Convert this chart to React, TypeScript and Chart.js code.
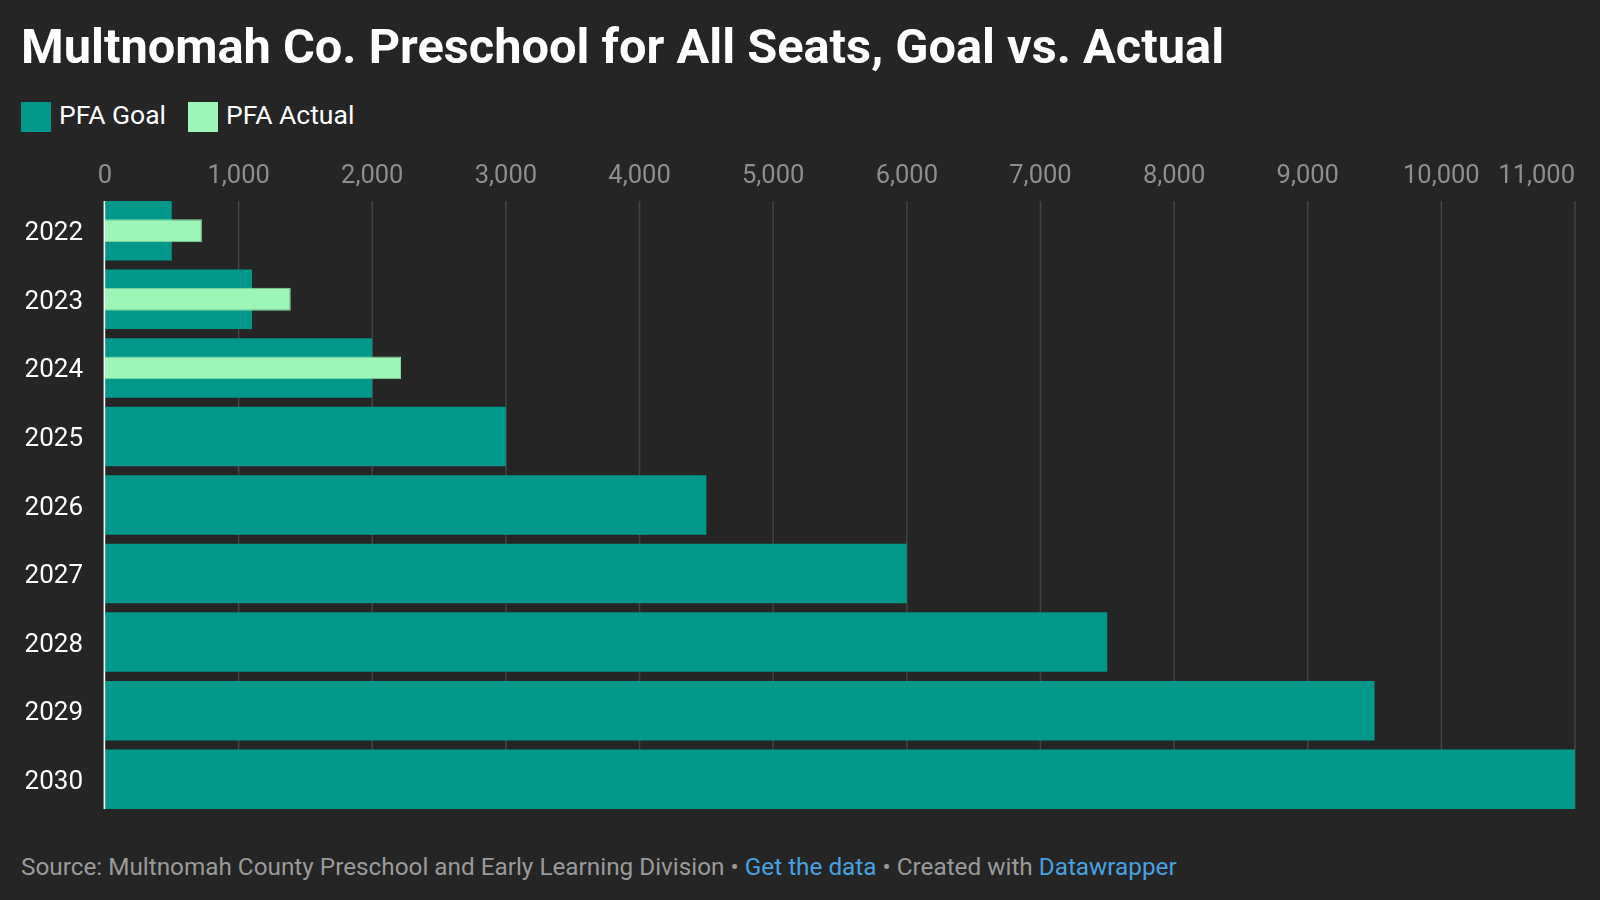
import React, { useEffect, useRef } from 'react';
import { Chart, registerables } from 'chart.js';

Chart.register(...registerables);

// Preschool for All seat counts by school year
const years = ['2022', '2023', '2024', '2025', '2026', '2027', '2028', '2029', '2030'];
const goalSeats = [500, 1100, 2000, 3000, 4500, 6000, 7500, 9500, 11000];
const actualSeats = [725, 1390, 2215, null, null, null, null, null, null];
const xTickValues = [0, 1000, 2000, 3000, 4000, 5000, 6000, 7000, 8000, 9000, 10000, 11000];

const GOAL_COLOR = '#019789';
const ACTUAL_COLOR = '#9ef5b8';
const BG = '#252525';
const FONT = 'Roboto, "Noto Sans", sans-serif';

// Grid lines, the zero axis line and the top tick labels, drawn from the chart's own scales
const seatAxisPlugin = {
  id: 'seatAxis',
  beforeDatasetsDraw(chart: any) {
    const { ctx } = chart;
    const xs = chart.scales.x;
    const bars = chart.getDatasetMeta(1).data;
    const top = bars[0].y - bars[0].height / 2;
    const bottom = bars[bars.length - 1].y + bars[bars.length - 1].height / 2;
    ctx.save();
    ctx.strokeStyle = '#444444';
    ctx.lineWidth = 1.5;
    xTickValues.forEach((v) => {
      if (v === 0) return;
      const px = xs.getPixelForValue(v);
      ctx.beginPath();
      ctx.moveTo(px, top);
      ctx.lineTo(px, bottom);
      ctx.stroke();
    });
    ctx.restore();
    chart.$barTop = top;
    chart.$barBottom = bottom;
  },
  afterDatasetsDraw(chart: any) {
    const { ctx, chartArea } = chart;
    ctx.save();
    ctx.strokeStyle = '#ffffff';
    ctx.lineWidth = 1.6;
    ctx.beginPath();
    ctx.moveTo(chartArea.left - 0.6, chart.$barTop);
    ctx.lineTo(chartArea.left - 0.6, chart.$barBottom);
    ctx.stroke();
    ctx.restore();
  },
  afterDraw(chart: any) {
    const { ctx } = chart;
    const xs = chart.scales.x;
    ctx.save();
    ctx.fillStyle = '#8e8e8e';
    ctx.font = `25.5px ${FONT}`;
    ctx.textBaseline = 'alphabetic';
    xTickValues.forEach((v, i) => {
      const px = xs.getPixelForValue(v);
      ctx.textAlign = i === xTickValues.length - 1 ? 'right' : 'center';
      ctx.fillText(v.toLocaleString('en-US'), px, chart.$barTop - 18);
    });
    ctx.restore();
  },
};

function SeatsChart() {
  const canvasRef = useRef<HTMLCanvasElement | null>(null);

  useEffect(() => {
    if (!canvasRef.current) return;
    const chart = new Chart(canvasRef.current, {
      type: 'bar',
      data: {
        labels: years,
        datasets: [
          {
            label: 'PFA Actual',
            data: actualSeats as any,
            backgroundColor: ACTUAL_COLOR,
            borderColor: '#84dba0',
            borderWidth: 1,
            barPercentage: 0.335,
            categoryPercentage: 1,
            grouped: false,
            order: 0,
          } as any,
          {
            label: 'PFA Goal',
            data: goalSeats,
            backgroundColor: GOAL_COLOR,
            borderWidth: 0,
            barPercentage: 0.868,
            categoryPercentage: 1,
            grouped: false,
            order: 1,
          } as any,
        ],
      },
      options: {
        indexAxis: 'y',
        animation: false,
        responsive: false,
        maintainAspectRatio: false,
        layout: { padding: { top: 0, right: 25, bottom: 26.5, left: 0 } },
        plugins: {
          legend: { display: false },
          tooltip: { enabled: false },
          title: { display: false },
        },
        scales: {
          x: {
            type: 'linear',
            position: 'top',
            min: 0,
            max: 11000,
            ticks: { stepSize: 1000, display: false },
            grid: { display: false, drawTicks: false },
            border: { display: false },
            afterFit: (s: any) => {
              s.height = 56.5;
              s.paddingLeft = 0;
              s.paddingRight = 0;
            },
          },
          y: {
            type: 'category',
            ticks: {
              color: '#ffffff',
              font: { family: FONT, size: 26 },
              padding: 22,
              labelOffset: 3,
            },
            grid: { display: false, drawTicks: false },
            border: { display: false },
            afterFit: (s: any) => {
              s.width = 105;
              s.paddingTop = 0;
              s.paddingBottom = 0;
            },
          },
        },
      } as any,
      plugins: [seatAxisPlugin],
    });
    return () => chart.destroy();
  }, []);

  return (
    <canvas
      ref={canvasRef}
      width={1600}
      height={700}
      style={{ position: 'absolute', left: 0, top: 140, width: 1600, height: 700 }}
    />
  );
}

const legendItems = [
  { label: 'PFA Goal', color: GOAL_COLOR, left: 21, textLeft: 59 },
  { label: 'PFA Actual', color: ACTUAL_COLOR, left: 188, textLeft: 226 },
];

export default function App() {
  return (
    <div
      style={{
        position: 'fixed',
        left: 0,
        top: 0,
        width: 1600,
        height: 900,
        background: BG,
        fontFamily: FONT,
        overflow: 'hidden',
      }}
    >
      <div
        style={{
          position: 'absolute',
          left: 21,
          top: 21.5,
          fontSize: 48.75,
          lineHeight: '49px',
          fontWeight: 700,
          color: '#ffffff',
          whiteSpace: 'nowrap',
        }}
      >
        Multnomah Co. Preschool for All Seats, Goal vs. Actual
      </div>
      {legendItems.map((item) => (
        <React.Fragment key={item.label}>
          <div
            style={{
              position: 'absolute',
              left: item.left,
              top: 102,
              width: 30,
              height: 30,
              background: item.color,
            }}
          />
          <div
            style={{
              position: 'absolute',
              left: item.textLeft,
              top: 101.5,
              fontSize: 26.5,
              lineHeight: '26.5px',
              color: '#ffffff',
              whiteSpace: 'nowrap',
            }}
          >
            {item.label}
          </div>
        </React.Fragment>
      ))}
      <SeatsChart />
      <div
        style={{
          position: 'absolute',
          left: 21,
          top: 855,
          fontSize: 24.3,
          lineHeight: '24.3px',
          color: '#9a9a9a',
          whiteSpace: 'nowrap',
        }}
      >
        Source: Multnomah County Preschool and Early Learning Division •{' '}
        <span style={{ color: '#47a1e0' }}>Get the data</span> • Created with{' '}
        <span style={{ color: '#47a1e0' }}>Datawrapper</span>
      </div>
    </div>
  );
}
